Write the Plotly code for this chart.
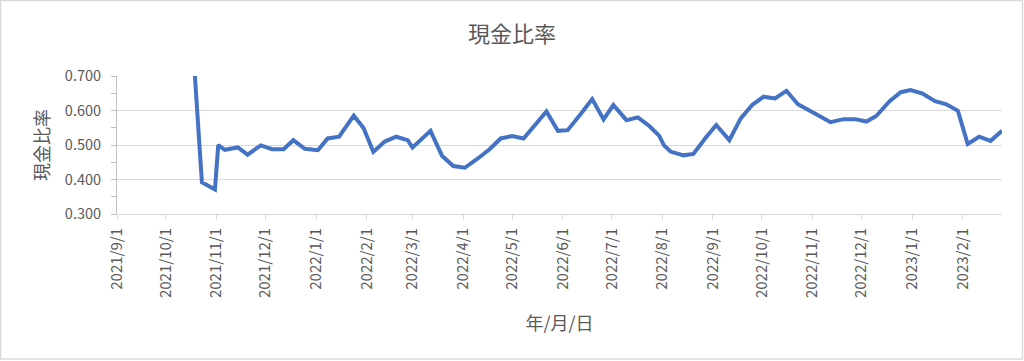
import plotly.graph_objects as go

# Data (現金比率)
dates = [
    "2021-10-16", "2021-10-23", "2021-10-31", "2021-11-02", "2021-11-06", "2021-11-14",
    "2021-11-20", "2021-11-28", "2021-12-05", "2021-12-12", "2021-12-18", "2021-12-25",
    "2022-01-02", "2022-01-08", "2022-01-15", "2022-01-24", "2022-01-30", "2022-02-05",
    "2022-02-12", "2022-02-19", "2022-02-26", "2022-03-01", "2022-03-12", "2022-03-19",
    "2022-03-26", "2022-04-02", "2022-04-10", "2022-04-17", "2022-04-24", "2022-05-01",
    "2022-05-08", "2022-05-14", "2022-05-22", "2022-05-29", "2022-06-04", "2022-06-12",
    "2022-06-19", "2022-06-26", "2022-07-02", "2022-07-10", "2022-07-17", "2022-07-24",
    "2022-07-30", "2022-08-02", "2022-08-06", "2022-08-14", "2022-08-20", "2022-08-28",
    "2022-09-03", "2022-09-11", "2022-09-18", "2022-09-25", "2022-10-02", "2022-10-09",
    "2022-10-16", "2022-10-23", "2022-10-30", "2022-11-06", "2022-11-12", "2022-11-20",
    "2022-11-27", "2022-12-04", "2022-12-10", "2022-12-18", "2022-12-25", "2022-12-31",
    "2023-01-07", "2023-01-15", "2023-01-22", "2023-01-29", "2023-02-04", "2023-02-11",
    "2023-02-18", "2023-02-25",
]
cash_ratio = [
    0.893, 0.392, 0.371, 0.500, 0.486, 0.493,
    0.472, 0.499, 0.488, 0.488, 0.514, 0.489,
    0.485, 0.519, 0.524, 0.585, 0.549, 0.480,
    0.510, 0.524, 0.514, 0.493, 0.541, 0.469,
    0.439, 0.434, 0.461, 0.487, 0.519, 0.526,
    0.519, 0.551, 0.597, 0.541, 0.543, 0.590,
    0.633, 0.574, 0.616, 0.572, 0.580, 0.555,
    0.527, 0.499, 0.481, 0.470, 0.474, 0.524,
    0.558, 0.514, 0.577, 0.616, 0.640, 0.635,
    0.657, 0.618, 0.601, 0.582, 0.566, 0.575,
    0.575, 0.568, 0.584, 0.626, 0.653, 0.659,
    0.650, 0.627, 0.618, 0.599, 0.503, 0.524,
    0.512, 0.541,
]

title_text = "現金比率"
y_title = "現金比率"
x_title = "年/月/日"
x_start = "2021-09-01"
x_end = "2023-02-25"
y_min, y_max = 0.3, 0.7

FONT = "Noto Sans CJK JP"
TXT = "#595959"
GRID = "#D9D9D9"

W, H = 1024, 361
ML, MR, MT, MB = 117, 22, 76, 147
PW, PH = W - ML - MR, H - MT - MB

fig = go.Figure()
fig.add_trace(go.Scatter(
    x=dates, y=cash_ratio, mode="lines",
    line=dict(color="#4472C4", width=4),
    showlegend=False,
))

fig.update_layout(
    width=W, height=H, autosize=False,
    margin=dict(l=ML, r=MR, t=MT, b=MB, autoexpand=False),
    paper_bgcolor="white", plot_bgcolor="white",
    font=dict(family=FONT, color=TXT, size=14),
    title=dict(text=title_text, x=0.5, xref="container", xanchor="center",
               y=1 - 34.5 / H, yref="container", yanchor="middle",
               font=dict(size=22, color=TXT, family=FONT)),
    xaxis=dict(
        type="date", range=[x_start, x_end],
        tick0=x_start, dtick="M1", tickformat="%Y/%-m/%-d",
        tickangle=-90, ticks="outside", ticklen=5, tickcolor=GRID,
        ticklabelstandoff=2,
        showline=True, linecolor=GRID, linewidth=1,
        showgrid=False, zeroline=False,
        tickfont=dict(size=15, color=TXT, family=FONT),
        title=dict(text=x_title, standoff=20, font=dict(size=18, color=TXT, family=FONT)),
    ),
    yaxis=dict(
        range=[y_min, y_max], dtick=0.1, tick0=0.3, tickformat=".3f",
        ticks="outside", ticklen=5, tickcolor="#BFBFBF",
        ticklabelstandoff=7,
        showline=True, linecolor="#BFBFBF", linewidth=1,
        showgrid=True, gridcolor=GRID, gridwidth=1, zeroline=False,
        minor=dict(dtick=0.05, ticks="outside", ticklen=5, tickcolor="#BFBFBF", showgrid=False),
        tickfont=dict(size=14.5, color=TXT, family=FONT),
        title=dict(text=y_title, standoff=10, font=dict(size=18, color=TXT, family=FONT)),
    ),
)

# chart-area border
fig.add_shape(type="rect", xref="paper", yref="paper",
              x0=-(ML - 0.5) / PW, x1=1 + (MR - 1.5) / PW,
              y0=-(MB - 2) / PH, y1=1 + (MT - 0.5) / PH,
              line=dict(color=GRID, width=1.5), fillcolor="rgba(0,0,0,0)", layer="below")

fig.write_html("out.html", config={"displayModeBar": False},
               post_script="document.body.style.margin='0';")
